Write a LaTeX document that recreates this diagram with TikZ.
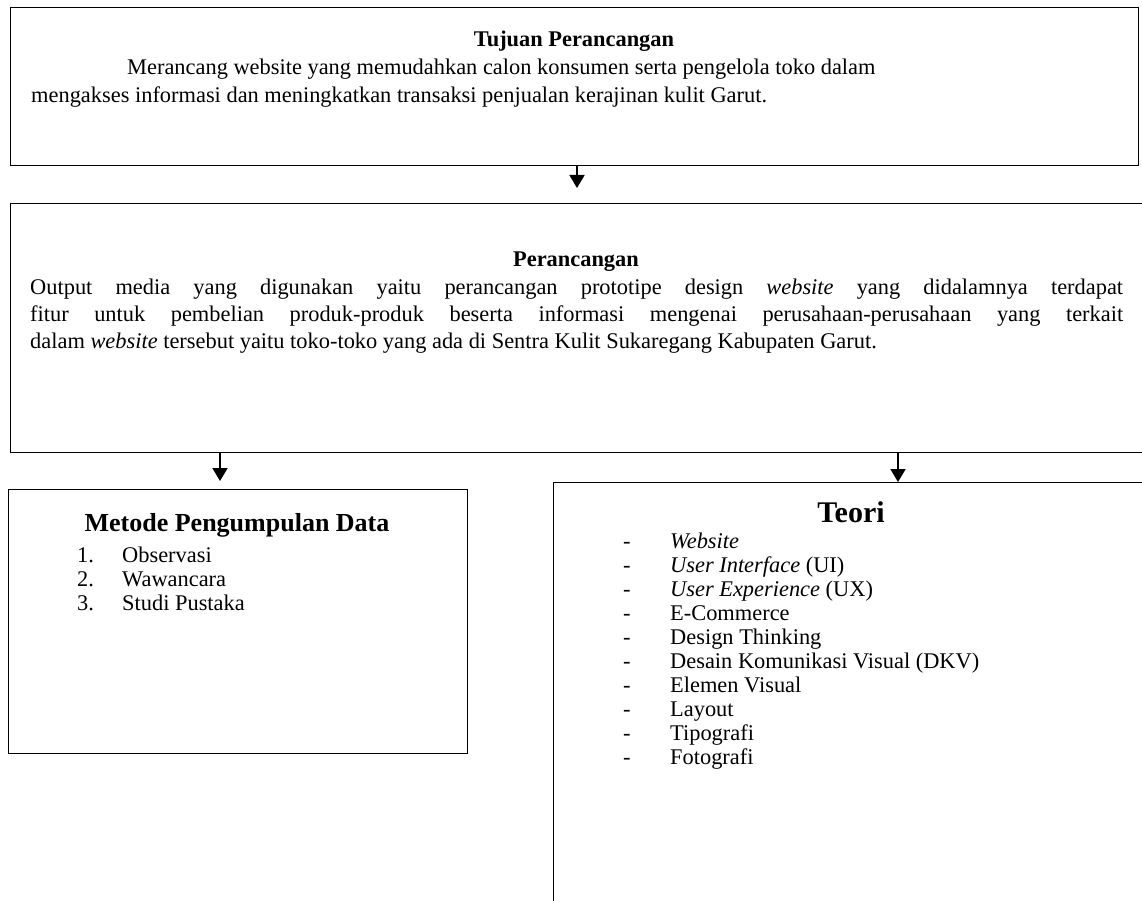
\documentclass[tikz,border=0pt]{standalone}
\usepackage{fontspec}
\setmainfont{Liberation Serif}
\usetikzlibrary{arrows.meta}
\tikzset{
 box/.style={draw, line width=1.4pt, inner sep=0pt, anchor=north west},
 txt/.style={anchor=base west, inner sep=0pt, font=\fontsize{22.4}{26}\selectfont},
 head/.style={anchor=base, inner sep=0pt, font=\fontsize{22.4}{26}\selectfont\bfseries},
 arr/.style={line width=1.8pt, -{Triangle[width=15pt,length=13pt]}},
}
\begin{document}
\begin{tikzpicture}[x=1pt,y=-1pt]
\useasboundingbox (0,0) rectangle (1142,901);
\clip (0,0) rectangle (1142,901);
% boxes
\node[box, minimum width=1128pt, minimum height=158pt] (tujuan) at (10,7) {};
\node[box, minimum width=1200pt, minimum height=249pt] (rancang) at (10,203) {};
\node[box, minimum width=459pt, minimum height=264pt] (metode) at (8,489) {};
\node[box, minimum width=700pt, minimum height=500pt] (teori) at (553,482) {};
% top box text
\node[head] (tujuanh) at (574,47) {Tujuan Perancangan};
\node[txt] (t1) at (127,75) {Merancang website yang memudahkan calon konsumen serta pengelola toko dalam};
\node[txt] (t2) at (31,103) {mengakses informasi dan meningkatkan transaksi penjualan kerajinan kulit Garut.};
% perancangan text
\node[head] (rancangh) at (576,266) {Perancangan};
\node[txt] (r1) at (30,294) {\makebox[1093pt][s]{Output media yang digunakan yaitu perancangan prototipe design \textit{website} yang didalamnya terdapat}};
\node[txt] (r2) at (30,321) {\makebox[1093pt][s]{fitur untuk pembelian produk-produk beserta informasi mengenai perusahaan-perusahaan yang terkait}};
\node[txt] (r3) at (30,348) {dalam \textit{website} tersebut yaitu toko-toko yang ada di Sentra Kulit Sukaregang Kabupaten Garut.};
% metode
\node[head, font=\fontsize{26}{30}\selectfont\bfseries] (metodeh) at (237,531) {Metode Pengumpulan Data};
\node[txt] (m1n) at (77,562) {1.};
\node[txt] (m1) at (122,562) {Observasi};
\node[txt] (m2n) at (77,586) {2.};
\node[txt] (m2) at (122,586) {Wawancara};
\node[txt] (m3n) at (77,610) {3.};
\node[txt] (m3) at (122,610) {Studi Pustaka};
% teori
\node[head, font=\fontsize{30}{34}\selectfont\bfseries] (teorih) at (851,522) {Teori};
\foreach \i/\t in {0/\textit{Website},1/\textit{User Interface} (UI),2/\textit{User Experience} (UX),3/E-Commerce,4/Design Thinking,5/Desain Komunikasi Visual (DKV),6/Elemen Visual,7/Layout,8/Tipografi,9/Fotografi}{
  \node[txt] (d\i) at (623,548+24.1*\i) {-};
  \node[txt] (i\i) at (670,548+24.1*\i) {\t};
}
% arrows
\coordinate (a1) at (577,0);
\coordinate (a2) at (220,0);
\coordinate (a3) at (898,0);
\draw[arr, shorten >=15pt] (tujuan.south -| a1) -- (rancang.north -| a1);
\draw[arr, shorten >=8pt] (rancang.south -| a2) -- (metode.north -| a2);
\draw[arr] (rancang.south -| a3) -- (teori.north -| a3);
\end{tikzpicture}
\end{document}
